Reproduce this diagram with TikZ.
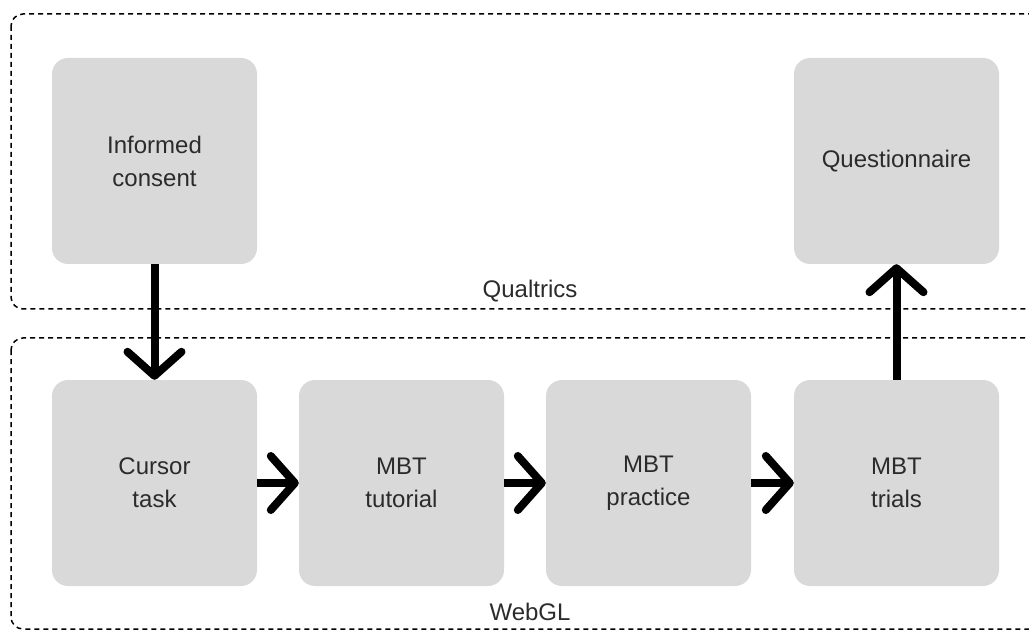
\documentclass[tikz,border=0pt]{standalone}
\usepackage{fontspec}
\setmainfont{Liberation Sans}
\usetikzlibrary{arrows.meta}
\definecolor{boxgray}{HTML}{D9D9D9}
\definecolor{txt}{HTML}{2B2B2B}
\tikzset{
  stage/.style={fill=boxgray, rounded corners=16pt, minimum width=205pt,
    minimum height=206pt, inner sep=0pt, align=center, text=txt,
    font=\fontsize{24}{33}\selectfont},
  zone/.style={draw=black, line width=1.5pt, dash pattern=on 5pt off 4pt,
    rounded corners=12pt},
  zonelabel/.style={text=txt, font=\fontsize{24}{30}\selectfont, inner sep=0pt},
  flow/.style={line width=8pt, line cap=butt,
    -{Straight Barb[length=24pt, width=54pt, round]}},
}
\begin{document}
\begin{tikzpicture}[x=1pt, y=-1pt]
  \useasboundingbox (0,0) rectangle (1029,631);
  \clip (0,0) rectangle (1029,631);

  % platform frames
  \draw[zone] (11,14) rectangle (1060,309);
  \draw[zone] (11,338) rectangle (1060,629);
  \node[zonelabel] (qlabel) at (530,291) {Qualtrics};
  \node[zonelabel] (wlabel) at (530,612) {WebGL};

  % stages
  \node[stage] (consent)  at (154.5,161) {Informed\\consent};
  \node[stage] (quest)    at (896.5,161) {Questionnaire};
  \node[stage] (cursor)   at (154.5,483) {Cursor\\task};
  \node[stage] (tutorial) at (401.5,483) {MBT\\tutorial};
  \node[stage] (practice) at (648.5,483) {MBT\\practice};
  \node[stage] (trials)   at (896.5,483) {MBT\\trials};

  % flow between stages
  \draw[flow] (consent.south) -- (cursor.north);
  \draw[flow] (cursor.east) -- (tutorial.west);
  \draw[flow] (tutorial.east) -- (practice.west);
  \draw[flow] (practice.east) -- (trials.west);
  \draw[flow] (trials.north) -- (quest.south);
\end{tikzpicture}
\end{document}
